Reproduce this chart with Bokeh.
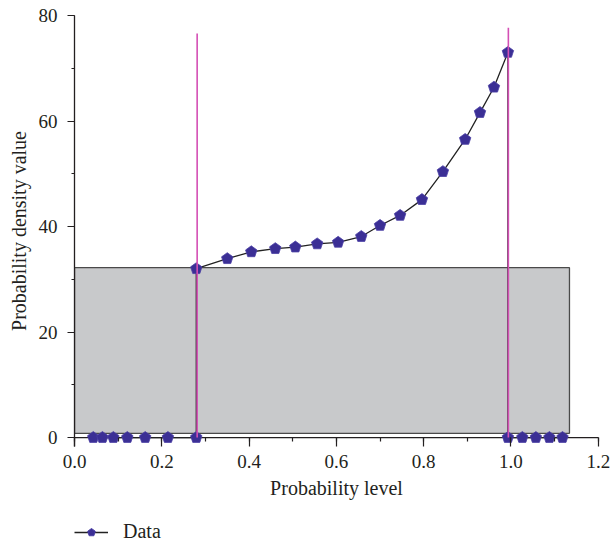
from bokeh.plotting import figure
from bokeh.layouts import column
from bokeh.models import (Range1d, SingleIntervalTicker, Legend, LegendItem,
                          ColumnDataSource)
from bokeh.embed import file_html
from bokeh.resources import INLINE

# ---- data ----
prob_level = [0.043, 0.064, 0.089, 0.121, 0.162, 0.214, 0.279,
              0.279, 0.350, 0.405, 0.460, 0.506, 0.556, 0.604, 0.657, 0.700,
              0.746, 0.796, 0.844, 0.895, 0.929, 0.961, 0.993,
              0.993, 1.026, 1.057, 1.088, 1.118]
density = [0, 0, 0, 0, 0, 0, 0,
           32.0, 33.9, 35.2, 35.8, 36.1, 36.7, 37.0, 38.1, 40.2,
           42.1, 45.1, 50.4, 56.5, 61.6, 66.4, 73.0,
           0, 0, 0, 0, 0]
box_left = [0.0]
box_right = [1.134]
box_bottom = [0.8]
box_top = [32.2]
vline_x = [0.281, 0.994]
vline_top = [76.6, 77.7]
x_ticks_labels = ["0.0", "0.2", "0.4", "0.6", "0.8", "1.0", "1.2"]
y_ticks_labels = ["0", "20", "40", "60", "80"]

FONT = "Liberation Serif"
INK = "#231f20"
MARK_FILL = "#3b2f95"
MARK_LINE = "#4a3fa5"

p = figure(width=611, height=506, output_backend="svg", toolbar_location=None,
           x_range=Range1d(0, 1.2005), y_range=Range1d(-1.7, 80),
           min_border_left=74, min_border_right=13, min_border_top=15,
           min_border_bottom=60)
p.outline_line_color = None
p.grid.grid_line_color = None

# grey box
p.quad(left=box_left, right=box_right, bottom=box_bottom, top=box_top,
       fill_color="#c8c9cb", line_color="#4a4a4a", line_width=1.3)

# x axis line at y = 0
p.segment(x0=[0], x1=[1.2005], y0=[0], y1=[0], line_color=INK, line_width=1.3)

src = ColumnDataSource(dict(x=prob_level, y=density))
p.line("x", "y", source=src, line_color="#222222", line_width=1.3)
p.ngon("x", "y", source=src, radius=6, radius_units="screen",
       n=5, angle=0, fill_color=MARK_FILL, line_color=MARK_LINE,
       line_width=0.8)

# magenta vertical lines
p.segment(x0=vline_x, x1=vline_x, y0=[0, 0], y1=vline_top,
          line_color="#d44fb5", line_width=1.6)

# axes
xa = p.xaxis[0]
xa.ticker = SingleIntervalTicker(interval=0.2, num_minor_ticks=2)
xa.major_label_overrides = {i * 0.2: t for i, t in enumerate(x_ticks_labels)}
xa.axis_line_color = None
xa.major_tick_in = 9
xa.major_tick_out = 0
xa.minor_tick_in = 9
xa.minor_tick_out = -5
xa.major_label_standoff = 8
xa.axis_label = "Probability level"
xa.axis_label_standoff = 6

ya = p.yaxis[0]
ya.ticker = SingleIntervalTicker(interval=20, num_minor_ticks=2)
ya.major_label_overrides = {i * 20: t for i, t in enumerate(y_ticks_labels)}
ya.axis_line_color = INK
ya.axis_line_width = 1.3
ya.major_tick_in = 0
ya.major_tick_out = 7
ya.minor_tick_in = 0
ya.minor_tick_out = 3
ya.major_label_standoff = 10
ya.axis_label = "Probability density value"
ya.axis_label_standoff = 6

for ax in (xa, ya):
    ax.major_tick_line_color = INK
    ax.minor_tick_line_color = INK
    ax.major_tick_line_width = 1.2
    ax.minor_tick_line_width = 1.2
    ax.major_label_text_font = FONT
    ax.major_label_text_font_size = "19px"
    ax.major_label_text_color = INK
    ax.axis_label_text_font = FONT
    ax.axis_label_text_font_size = "20px"
    ax.axis_label_text_font_style = "normal"
    ax.axis_label_text_color = INK

# legend strip below the chart (its renderers share the data but the
# strip's y range lies above every value, so only the legend is visible)
p2 = figure(width=611, height=40, output_backend="svg", toolbar_location=None,
            x_axis_type=None, y_axis_type=None, min_border=0,
            x_range=Range1d(0, 1.2), y_range=Range1d(200, 201))
p2.outline_line_color = None
p2.grid.grid_line_color = None
lg_line = p2.line("x", "y", source=src, line_color="#222222", line_width=1.3)
lg_mark = p2.ngon("x", "y", source=src, radius=4.5, radius_units="screen",
                  n=5, angle=0, fill_color=MARK_FILL, line_color=MARK_LINE)
legend = Legend(items=[LegendItem(label="Data", renderers=[lg_line, lg_mark])],
                orientation="horizontal", location=(0, 3),
                label_text_font=FONT, label_text_font_size="20px",
                label_text_color=INK, border_line_color=None,
                background_fill_alpha=0, glyph_width=34, glyph_height=20,
                label_standoff=15, margin=0, padding=0)
p2.add_layout(legend, "center")

open("out.html", "w").write(file_html(column(p, p2), INLINE))
